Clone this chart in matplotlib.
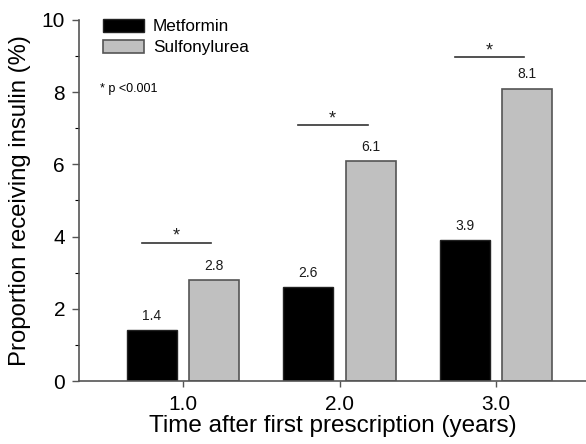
import matplotlib
matplotlib.use("Agg")
import matplotlib.pyplot as plt
import numpy as np

plt.rcParams['font.family'] = ['Liberation Sans', 'DejaVu Sans']

years = [1.0, 2.0, 3.0]
year_labels = ['1.0', '2.0', '3.0']
metformin = [1.4, 2.6, 3.9]
sulfonylurea = [2.8, 6.1, 8.1]
sig_levels = [3.83, 7.09, 8.97]

fig = plt.figure(figsize=(5.86, 4.44), dpi=100)
ax = fig.add_axes([79/586, 63/444, 507/586, 361/444])

x = np.array(years)
off = 0.2
w = 0.32
ax.bar(x - off, metformin, width=w, color='black', edgecolor='#222222', linewidth=1.0, label='Metformin', zorder=2)
ax.bar(x + off, sulfonylurea, width=w, color='#c0c0c0', edgecolor='#555555', linewidth=1.2, label='Sulfonylurea', zorder=2)

for xi, m, s in zip(x, metformin, sulfonylurea):
    ax.text(xi - off, m + 0.2, f'{m:.1f}', ha='center', va='bottom', fontsize=10, color='#1a1a1a')
    ax.text(xi + off, s + 0.2, f'{s:.1f}', ha='center', va='bottom', fontsize=10, color='#1a1a1a')

for xi, lvl in zip(x, sig_levels):
    ax.plot([xi - 0.265, xi + 0.18], [lvl, lvl], color='#333333', lw=1.2)
    ax.text(xi - 0.045, lvl + 0.05, '*', ha='center', va='baseline', fontsize=13, color='#222222')

ax.text(0.47, 8.1, '* p <0.001', fontsize=9, va='center', ha='left')

ax.set_xlim(0.335, 3.575)
ax.set_ylim(0, 10)
ax.set_xticks(x)
ax.set_xticklabels(year_labels)
ax.set_yticks([0, 2, 4, 6, 8, 10])
ax.set_yticks([1, 3, 5, 7, 9], minor=True)
ax.tick_params(axis='both', labelsize=15, colors='#555555', labelcolor='black')
ax.tick_params(axis='y', which='major', length=5, width=1.0, direction='out', pad=5)
ax.tick_params(axis='y', which='minor', length=3, width=0.8, direction='out')
ax.tick_params(axis='x', length=4, width=1.0, direction='out', pad=6)
for sp in ['top', 'right']:
    ax.spines[sp].set_visible(False)
for sp in ['left', 'bottom']:
    ax.spines[sp].set_color('#555555')
    ax.spines[sp].set_linewidth(1.2)

ax.set_xlabel('Time after first prescription (years)', fontsize=17.5, labelpad=1)
ax.set_ylabel('Proportion receiving insulin (%)', fontsize=17.2, labelpad=8)

ax.legend(loc='upper left', bbox_to_anchor=(103/586, 1 - 19/444), bbox_transform=fig.transFigure,
          frameon=False, fontsize=12.3, borderpad=0, borderaxespad=0,
          handlelength=2.4, handleheight=0.78, handletextpad=0.53, labelspacing=0.32)

fig.savefig('out.png', dpi=100)
